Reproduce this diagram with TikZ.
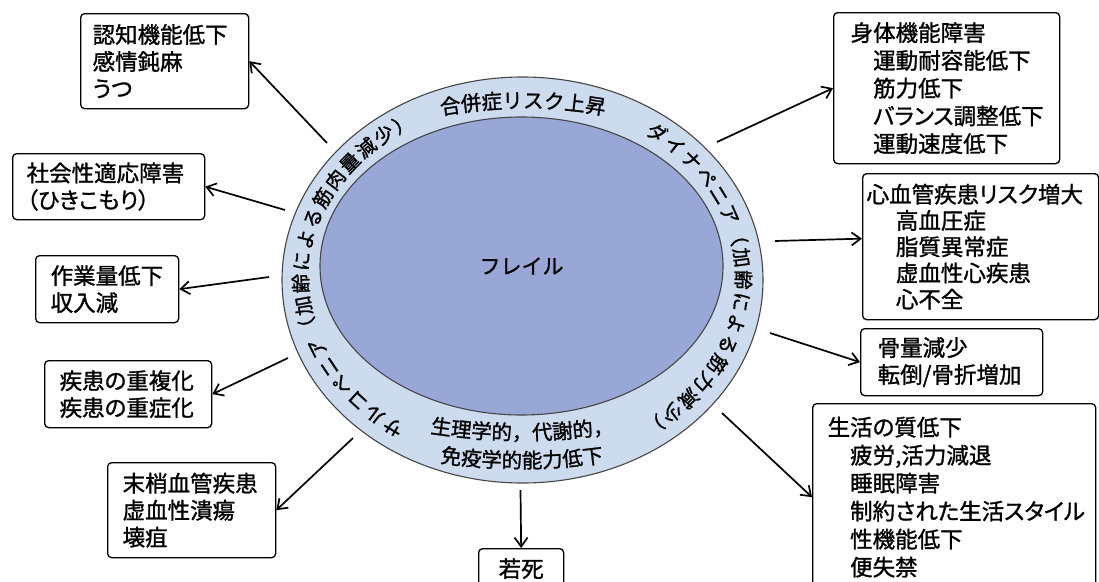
\documentclass[tikz,border=0pt]{standalone}
\usepackage{fontspec}
\setmainfont{Noto Sans CJK JP}[RawFeature=+palt, FakeBold=1.2]
\newfontfamily\ringjp{Noto Sans CJK JP}[FakeBold=1.2]
\usetikzlibrary{shapes.geometric, arrows.meta, decorations.text}
\definecolor{innerfill}{RGB}{152,167,214}
\definecolor{ringfill}{RGB}{205,219,239}
\definecolor{edgegray}{RGB}{70,70,70}
\begin{document}
\begin{tikzpicture}[x=1pt, y=-1pt,
  box/.style={draw, line width=1.3pt, rounded corners=4pt, anchor=north west,
    align=left, inner ysep=0pt, font=\fontsize{22.5}{27}\selectfont},
  arr/.style={line width=1.7pt, -{Straight Barb[length=9pt, width=13pt]}},
  ringtext/.style={decorate, decoration={text along path, text align=center, text={#1}}},
  ringfit/.style={decorate, decoration={text along path, text align=fit to path, text={#1}}}
]
\useasboundingbox (0,0) rectangle (1099,581);
\clip (0,0) rectangle (1099,581);

% central ellipses
\node[ellipse, draw=edgegray, line width=1.1pt, fill=ringfill, minimum width=481pt,
  minimum height=406pt, inner sep=0pt] (ring) at (522.5,280) {};
\node[ellipse, draw=edgegray, line width=1.1pt, fill=innerfill, minimum width=403pt,
  minimum height=298pt, inner sep=0pt, font=\ringjp\fontsize{21}{25}\selectfont]
  (frail) at (521.5,266) {フレイル};

% ring texts
\path[ringtext={|\ringjp\fontsize{20.5}{24}\selectfont|合併症リスク上昇}]
  (523,578) ++(258:470) arc[start angle=258, end angle=282, radius=470];
\path[ringfit={|\ringjp\fontsize{19.5}{22}\selectfont|サルコペニア（加齢による筋肉量減少）}]
  (522,278) ++(123:214 and 176) arc[start angle=123, end angle=240, x radius=214, y radius=176];
\path[ringfit={|\ringjp\fontsize{19.5}{22}\selectfont|ダイナペニア（加齢による筋力減少）}]
  (522,278) ++(-55:214 and 176) arc[start angle=-55, end angle=56, x radius=214, y radius=176];
\path[ringtext={|\ringjp\fontsize{20.5}{24}\selectfont|生理学的，代謝的，}]
  (522,-160) ++(100:600) arc[start angle=100, end angle=80, radius=600];
\path[ringtext={|\ringjp\fontsize{20.5}{24}\selectfont|免疫学的能力低下}]
  (522,-132) ++(100:600) arc[start angle=100, end angle=80, radius=600];

% boxes left
\node[box, inner xsep=12pt, text width=144pt, minimum height=95pt] (b1) at (80,13)
  {認知機能低下\\感情鈍麻\\うつ};
\node[box, inner xsep=14pt, text width=164pt, minimum height=66pt] (b2) at (12,153)
  {社会性適応障害\\（ひきこもり）};
\node[box, inner xsep=15pt, text width=113pt, minimum height=67pt] (b3) at (35,255)
  {作業量低下\\収入減};
\node[box, inner xsep=15pt, text width=137pt, minimum height=67pt] (b4) at (44,360)
  {疾患の重複化\\疾患の重症化};
\node[box, inner xsep=15pt, text width=138pt, minimum height=95pt] (b5) at (107,462)
  {末梢血管疾患\\虚血性潰瘍\\壊疽};
\node[box, align=center, minimum width=85pt, minimum height=40pt] (b6) at (478,548)
  {若死};

% boxes right
\node[box, inner xsep=17pt, text width=192pt, minimum height=151pt,
  font=\fontsize{22.5}{27.75}\selectfont] (b7) at (833,12)
  {身体機能障害\\\hspace*{1em}運動耐容能低下\\\hspace*{1em}筋力低下\\\hspace*{1em}バランス調整低下\\\hspace*{1em}運動速度低下};
\node[box, inner xsep=4pt, text width=228pt, minimum height=146pt,
  font=\fontsize{22.5}{26.25}\selectfont] (b8) at (862,173)
  {心血管疾患リスク増大\\\hspace*{1.3em}高血圧症\\\hspace*{1.3em}脂質異常症\\\hspace*{1.3em}虚血性心疾患\\\hspace*{1.3em}心不全};
\node[box, inner xsep=17pt, text width=148pt, minimum height=67pt] (b9) at (860,328)
  {骨量減少\\転倒/骨折増加};
\node[box, inner xsep=15pt, text width=253pt, minimum height=187pt,
  font=\fontsize{22.5}{28}\selectfont] (b10) at (812,403)
  {生活の質低下\\\hspace*{1em}疲労,活力減退\\\hspace*{1em}睡眠障害\\\hspace*{1em}制約された生活スタイル\\\hspace*{1em}性機能低下\\\hspace*{1em}便失禁};

% connector start points
\coordinate (s1) at (327,143);
\coordinate (s2) at (285,210);
\coordinate (s3) at (269,277);
\coordinate (s4) at (288,358);
\coordinate (s5) at (353,438);
\coordinate (s6) at (520.5,490);
\coordinate (s7) at (717,142);
\coordinate (s8) at (775,241);
\coordinate (s9) at (770,333);
\coordinate (s10) at (722,413);

\draw[arr] (s1) -- (b1.east);
\draw[arr] (s2) -- (b2.east);
\draw[arr] (s3) -- (b3.east);
\draw[arr] (s4) -- (b4.east);
\draw[arr] (s5) -- (b5.east);
\draw[arr] (s6) -- (b6.north);
\draw[arr] (s7) -- (b7.west);
\draw[arr] (s8) -- ([yshift=8pt]b8.west);
\draw[arr] (s9) -- (b9.west);
\draw[arr] (s10) -- (b10.west);
\end{tikzpicture}
\end{document}
